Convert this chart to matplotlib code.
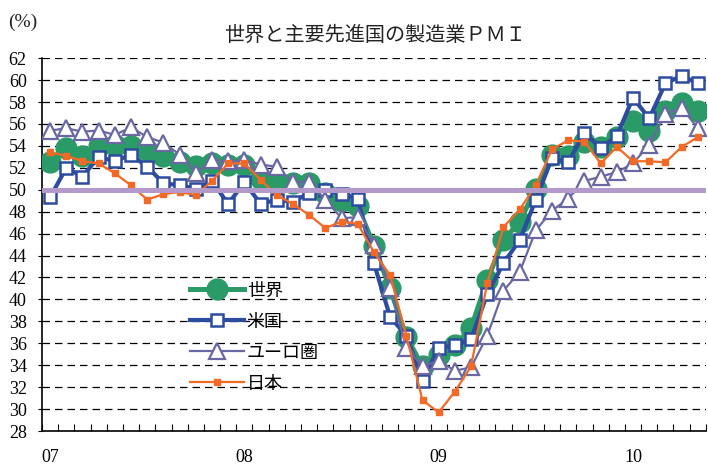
import numpy as np
import matplotlib
matplotlib.use('Agg')
import matplotlib.pyplot as plt
from matplotlib.ticker import FixedLocator

plt.rcParams['font.family'] = ['Noto Sans CJK JP', 'DejaVu Sans']

# monthly, Jan 2007 - May 2010
world = [52.5, 53.8, 53.1, 54.0, 54.1, 54.0, 53.6, 53.1, 52.5, 52.2, 52.4, 52.3,
         52.3, 51.0, 50.6, 50.6, 50.6, 49.7, 49.0, 48.5, 44.9, 41.0, 36.6, 33.9,
         34.9, 35.8, 37.4, 41.8, 45.4, 47.1, 50.1, 53.2, 53.1, 54.4, 53.9, 54.8,
         56.3, 55.4, 57.2, 57.9, 57.2]
usa = [49.3, 52.0, 51.2, 53.0, 52.6, 53.2, 52.1, 50.6, 50.4, 50.1, 50.8, 48.7,
       50.7, 48.7, 49.1, 48.9, 49.7, 50.0, 49.6, 49.2, 43.3, 38.4, 36.7, 32.6,
       35.6, 35.8, 36.4, 40.5, 43.3, 45.4, 49.1, 52.9, 52.5, 55.2, 53.8, 54.9,
       58.4, 56.5, 59.7, 60.4, 59.7]
euro = [55.4, 55.6, 55.3, 55.4, 55.0, 55.7, 54.8, 54.3, 53.2, 51.5, 52.7, 52.6,
        52.7, 52.3, 52.1, 50.7, 50.7, 49.1, 47.4, 47.5, 45.0, 41.0, 35.6, 33.9,
        34.4, 33.5, 33.8, 36.7, 40.8, 42.5, 46.3, 48.1, 49.2, 50.8, 51.2, 51.6,
        52.4, 54.1, 56.9, 57.5, 55.6]
japan = [53.4, 53.1, 52.6, 52.4, 51.5, 50.4, 49.1, 49.6, 49.8, 49.5, 50.8, 52.4,
         52.4, 50.9, 49.5, 48.7, 47.7, 46.5, 47.1, 46.9, 44.3, 42.2, 36.7, 30.8,
         29.7, 31.6, 33.9, 41.5, 46.6, 48.2, 50.4, 53.7, 54.5, 54.4, 52.4, 53.9,
         52.6, 52.6, 52.5, 53.9, 54.8]
year_labels = ['07', '08', '09', '10']
series_names = ['世界', '米国', 'ユーロ圏', '日本']
title = '世界と主要先進国の製造業ＰＭＩ'

x = np.arange(len(world))

fig = plt.figure(figsize=(7.08, 4.69), dpi=100)
ax = fig.add_axes([0.0593, 0.081, 0.9377, 0.795])

for v in range(30, 63, 2):
    ax.axhline(v, color='black', lw=0.9, ls=(0, (6, 4)), zorder=1)

ax.plot(x, world, color='#2a9a66', lw=3.6, marker='o', ms=15,
        mfc='#2a9a66', mec='#2a9a66', zorder=3, label=series_names[0])
ax.plot(x, usa, color='#2d4ca0', lw=3.0, marker='s', ms=8.5,
        mfc='white', mec='#2d4ca0', mew=1.8, zorder=4, label=series_names[1])
ax.plot(x, euro, color='#6a68a3', lw=1.6, marker='^', ms=11,
        mfc='white', mec='#6a68a3', mew=1.6, zorder=5, label=series_names[2])
ax.plot(x, japan, color='#f26a25', lw=1.6, marker='s', ms=4.5,
        mfc='#f26a25', mec='#f26a25', zorder=6, label=series_names[3])
ax.axhline(50, color='#b49acb', lw=3.6, zorder=7)

ax.set_xlim(-0.5, len(world) - 0.5)
ax.set_ylim(28, 62)
ax.set_yticks(range(28, 63, 2))
ax.set_xticks([0, 12, 24, 36])
ax.set_xticklabels(year_labels)
ax.xaxis.set_minor_locator(FixedLocator(np.arange(-0.5, len(world), 1)))
ax.tick_params(axis='x', which='major', length=0, pad=13)
ax.tick_params(axis='x', which='minor', direction='in', length=5, width=0.8)
ax.tick_params(axis='y', direction='out', length=3, width=0.8, pad=8)
for lab in ax.get_xticklabels() + ax.get_yticklabels():
    lab.set_family('Liberation Serif')
    lab.set_fontsize(13)

for s in ['top', 'right']:
    ax.spines[s].set_visible(False)
for s in ['left', 'bottom']:
    ax.spines[s].set_linewidth(1.2)

leg = ax.legend(loc='upper left', bbox_to_anchor=(0.212, 0.42), frameon=False,
                fontsize=13, handlelength=3.0, handletextpad=0.15,
                labelspacing=0.72, borderaxespad=0)

fig.text(0.53, 0.925, title, ha='center', va='center', fontsize=14.5, color='#222222')
fig.text(0.012, 0.952, '(%)', ha='left', va='center', fontsize=14,
         family='Liberation Serif', color='#222222')

fig.savefig('out.png', dpi=100)
